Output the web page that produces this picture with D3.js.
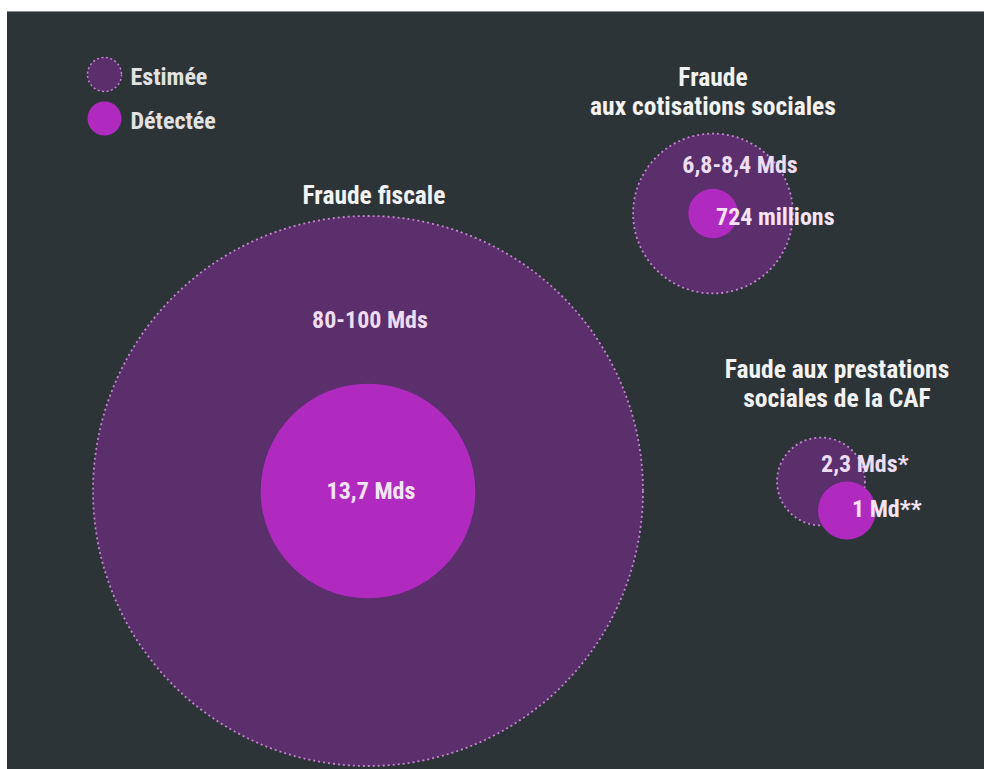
<!DOCTYPE html>
<html>
<head>
<meta charset="utf-8">
<script src="https://cdn.jsdelivr.net/npm/d3@7"></script>
<style>
  html, body { margin: 0; padding: 0; background: #ffffff; }
  svg { display: block; }
  text { font-family: "Roboto Condensed", "Liberation Sans Narrow", "DejaVu Sans Condensed", "Open Sans", sans-serif; font-stretch: condensed; font-weight: bold; }
</style>
</head>
<body>
<script>
// data (milliards d'euros)
const categories = ["Fraude fiscale", "Fraude aux cotisations sociales", "Faude aux prestations sociales de la CAF"];
const titleLines = [["Fraude fiscale"], ["Fraude", "aux cotisations sociales"], ["Faude aux prestations", "sociales de la CAF"]];
const estimeLow = [80, 6.8, 2.3];
const estimeHigh = [100, 8.4, 2.3];
const detectee = [13.7, 0.724, 1];
const estimeLabels = ["80-100 Mds", "6,8-8,4 Mds", "2,3 Mds*"];
const detecteeLabels = ["13,7 Mds", "724 millions", "1 Md**"];
const legendLabels = ["Estimée", "Détectée"];

const width = 984;
const height = 769;

// layout of each group (not data)
const layout = [
    { cx: 368, cy: 491, dx: 0, dy: 0, titleX: 374, titleY: 204,
      est: { x: 370, y: 328, anchor: "middle" }, det: { x: 371, y: 499, anchor: "middle" } },
    { cx: 713, cy: 213.5, dx: 0, dy: 0, titleX: 713, titleY: 115,
      est: { x: 740, y: 173, anchor: "middle" }, det: { x: 716, y: 225, anchor: "start" } },
    { cx: 821, cy: 481.5, dx: 26, dy: 29, titleX: 837, titleY: 407,
      est: { x: 821, y: 472, anchor: "start" }, det: { x: 852, y: 517, anchor: "start" } }
];
const lineGap = 29;

const colEstime = "#5b2e6c";
const colDetect = "#b12ac0";
const colDash = "#c784d3";

const groups = categories.map((c, i) => ({
    name: c,
    titles: titleLines[i],
    estime: (estimeLow[i] + estimeHigh[i]) / 2,
    detectee: detectee[i],
    estLabel: estimeLabels[i],
    detLabel: detecteeLabels[i],
    pos: layout[i]
}));

// circle area proportional to amount
const r = d3.scaleSqrt()
    .domain([0, d3.max(groups, d => d.estime)])
    .range([0, 275]);

const svg = d3.create("svg")
    .attr("width", width)
    .attr("height", height);

svg.append("rect")
    .attr("x", 7).attr("y", 11)
    .attr("width", width - 7).attr("height", height - 11)
    .attr("fill", "#2d3437");
svg.append("line")
    .attr("x1", 7).attr("x2", width).attr("y1", 11.5).attr("y2", 11.5)
    .attr("stroke", "#8a8d8f").attr("stroke-width", 1);

const g = svg.append("g")
    .selectAll("g")
    .data(groups)
    .join("g");

g.append("circle")
    .attr("cx", d => d.pos.cx)
    .attr("cy", d => d.pos.cy)
    .attr("r", d => r(d.estime))
    .attr("fill", colEstime)
    .attr("stroke", colDash)
    .attr("stroke-width", 1.8)
    .attr("stroke-dasharray", "2 3");

g.append("circle")
    .attr("cx", d => d.pos.cx + d.pos.dx)
    .attr("cy", d => d.pos.cy + d.pos.dy)
    .attr("r", d => r(d.detectee))
    .attr("fill", colDetect);

// titles, one text per line
g.selectAll("text.title")
    .data(d => d.titles.map((t, j) => ({ t, x: d.pos.titleX, y: d.pos.titleY - (d.titles.length - 1 - j) * lineGap })))
    .join("text")
    .attr("class", "title")
    .attr("x", d => d.x)
    .attr("y", d => d.y)
    .attr("text-anchor", "middle")
    .attr("font-size", 25.5)
    .attr("fill", "#f2f2f2")
    .text(d => d.t);

g.append("text")
    .attr("x", d => d.pos.est.x)
    .attr("y", d => d.pos.est.y)
    .attr("text-anchor", d => d.pos.est.anchor)
    .attr("font-size", 24)
    .attr("fill", "#eedcf2")
    .text(d => d.estLabel);

g.append("text")
    .attr("x", d => d.pos.det.x)
    .attr("y", d => d.pos.det.y)
    .attr("text-anchor", d => d.pos.det.anchor)
    .attr("font-size", 24)
    .attr("fill", "#f4e4f6")
    .text(d => d.detLabel);

// legend
const legend = svg.append("g")
    .selectAll("g")
    .data(legendLabels)
    .join("g")
    .attr("transform", (d, i) => `translate(104.5, ${74.5 + i * 44})`);

legend.append("circle")
    .attr("r", 17)
    .attr("fill", (d, i) => i === 0 ? colEstime : colDetect)
    .attr("stroke", (d, i) => i === 0 ? colDash : "none")
    .attr("stroke-width", 1.5)
    .attr("stroke-dasharray", "2 2.5");

legend.append("text")
    .attr("x", 26)
    .attr("y", 10)
    .attr("font-size", 24)
    .attr("fill", "#e2e2e2")
    .text(d => d);

document.body.appendChild(svg.node());
</script>
</body>
</html>
